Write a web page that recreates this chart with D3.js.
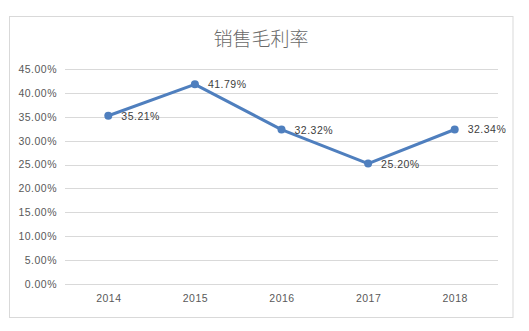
<!DOCTYPE html>
<html><head><meta charset="utf-8">
<script src="https://cdn.jsdelivr.net/npm/d3@7"></script>
<style>body{margin:0;background:#fff;}svg{display:block;}</style>
</head><body>
<svg id="c" width="529" height="331"></svg>
<script>
const title = "销售毛利率";
const categories = ["2014","2015","2016","2017","2018"];
const values = [35.21, 41.79, 32.32, 25.20, 32.34];
const yTicks = [0,5,10,15,20,25,30,35,40,45];

const svg = d3.select("#c");
svg.append("rect").attr("x",9.5).attr("y",16.5).attr("width",503.5).attr("height",301)
  .attr("fill","#fff").attr("stroke","#d9d9d9").attr("stroke-width",1);

svg.append("text").attr("x",261).attr("y",46).attr("text-anchor","middle")
  .attr("font-family","'Noto Sans CJK SC', sans-serif").attr("font-size",19).attr("font-weight",300)
  .attr("fill","#6a6a6a").text(title);

const x = d3.scalePoint().domain(categories).range([108.3,454.7]);
const y = d3.scaleLinear().domain([0,45]).range([284,69]);
const font = "'Liberation Sans', Arial, sans-serif";

svg.append("g").selectAll("line").data(yTicks).join("line")
  .attr("x1",65).attr("x2",498).attr("y1",d=>Math.round(y(d))+0.5).attr("y2",d=>Math.round(y(d))+0.5)
  .attr("stroke","#d9d9d9").attr("stroke-width",1);

const yAxis = d3.axisLeft(y).tickValues(yTicks).tickSize(0).tickPadding(0)
  .tickFormat(d=>d.toFixed(2)+"%");
svg.append("g").attr("transform","translate(57,0)").call(yAxis)
  .call(a=>a.select(".domain").remove())
  .call(a=>a.selectAll("text").attr("font-family",font).attr("font-size",10.5)
    .attr("letter-spacing",0.5).attr("fill","#595959"));

const xAxis = d3.axisBottom(x).tickSize(0).tickPadding(0);
svg.append("g").attr("transform","translate(0,295)").call(xAxis)
  .call(a=>a.select(".domain").remove())
  .call(a=>a.selectAll("text").attr("font-family",font).attr("font-size",10.5)
    .attr("letter-spacing",0.5).attr("fill","#595959"));

const line = d3.line().x((d,i)=>x(categories[i])).y(d=>y(d));
svg.append("path").datum(values).attr("d",line).attr("fill","none")
  .attr("stroke","#4f7fbe").attr("stroke-width",3).attr("stroke-linejoin","round").attr("stroke-linecap","round");
svg.selectAll("circle.pt").data(values).join("circle")
  .attr("cx",(d,i)=>x(categories[i])).attr("cy",d=>y(d)).attr("r",4)
  .attr("fill","#4f7fbe");
svg.selectAll("text.lbl").data(values).join("text")
  .attr("x",(d,i)=>x(categories[i])+13).attr("y",d=>y(d)+4)
  .attr("font-family",font).attr("font-size",10.5).attr("letter-spacing",0.5).attr("fill","#404040")
  .text(d=>d.toFixed(2)+"%");
</script>
</body></html>
